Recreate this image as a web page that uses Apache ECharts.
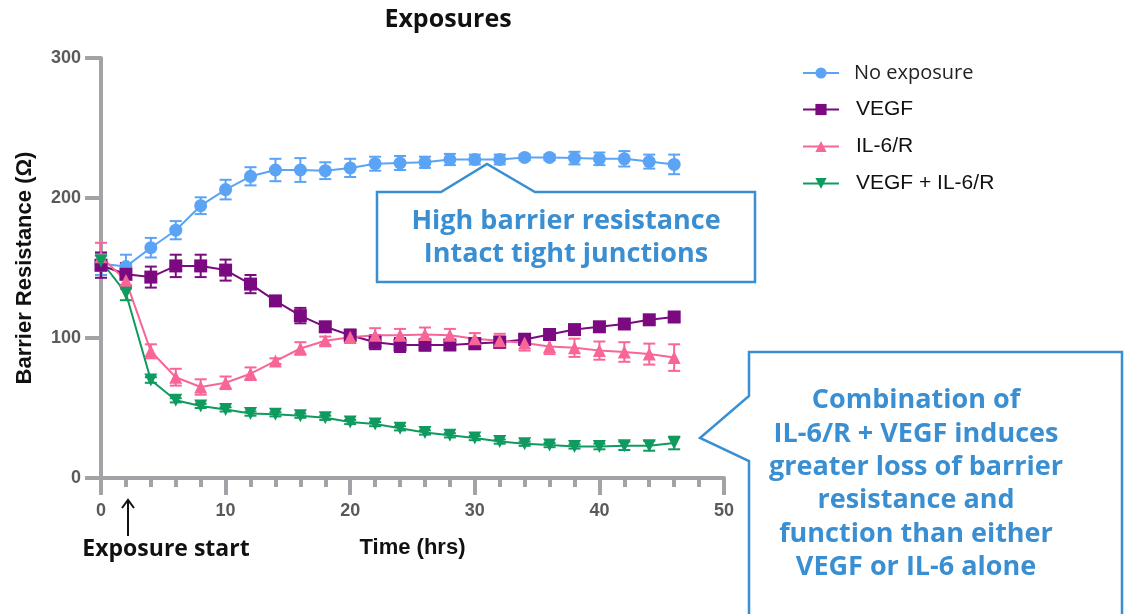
<!DOCTYPE html>
<html>
<head>
<meta charset="utf-8">
<script src="https://cdn.jsdelivr.net/npm/echarts@6/dist/echarts.min.js"></script>
<style>html,body{margin:0;padding:0;background:#fff}#c{width:1128px;height:614px}</style>
</head>
<body>
<div id="c"></div>
<script>
const times = [0,2,4,6,8,10,12,14,16,18,20,22,24,26,28,30,32,34,36,38,40,42,44,46];
const seriesNames = ['No exposure','VEGF','IL-6/R','VEGF + IL-6/R'];
const noExposure    = [153,151,164.5,177,194.5,206,215.5,220,220,219.5,221.5,224.5,225,225.5,227.5,227.5,227.5,229,229,228.5,228,228,226,224];
const noExposureErr = [8,8.5,7,6.5,6,7,6.5,8,8.5,6,6.5,5,5,4,4,3.5,3.5,2,2,4.5,4.5,5.5,5,7];
const vegf    = [152,145.5,143.5,151.5,151.5,148.5,138.5,126.5,116,108,102,97,95,95,95,96,97,99,102.5,106,108,110,113,115];
const vegfErr = [9,8,7.5,8,8,7.5,6.5,3,5.5,3,4,5,5,4,3.5,4,4,4,3,3,2.5,2.5,2.5,2.5];
const il6    = [158,141,90.5,72,65,68,74.5,83.5,92.5,98,100.5,102,102,102.5,102,99.5,98,96.5,94,93,91,90,88.5,86];
const il6Err = [10,6,5,6,5.5,4.5,4.5,2,4.5,3,4,5,4.5,5,4.5,4,5,5.5,5.5,6.5,6.5,7,7.5,9.5];
const combo    = [155,132,70,55.5,51.5,49,46,45.5,44.5,43,40,38.5,35.5,32.5,30.5,28.5,26,24.5,23.5,22.5,22.5,23,23,25];
const comboErr = [4,5,2,1.5,1.5,1.5,1.5,1.5,1.5,1.5,1.5,1.5,1.5,1.5,1.5,1.5,1.5,1.5,1.5,1.5,2,3,3.5,4.5];
const yTicks = [0,100,200,300];
const xTicks = [0,10,20,30,40,50];

const colors = ['#5AA3F5','#7B0A80','#F76696','#0F9A5F'];
const symbols = ['circle','rect','triangle','triangle'];
const rotations = [0,0,0,180];
const values = [noExposure, vegf, il6, combo];
const errs = [noExposureErr, vegfErr, il6Err, comboErr];

const chart = echarts.init(document.getElementById('c'), null, {renderer:'canvas'});
const series = [];
values.forEach((vals, i) => {
  series.push({
    name: seriesNames[i] + ' err', type: 'custom', z: 2,
    data: times.map((t, k) => [t, vals[k], errs[i][k]]),
    renderItem: (params, api) => {
      const x = api.value(0), y = api.value(1), e = api.value(2);
      const lo = api.coord([x, y - e]), hi = api.coord([x, y + e]);
      const w = 6;
      const st = {stroke: colors[i], lineWidth: 2};
      return {type:'group', children:[
        {type:'line', shape:{x1:lo[0],y1:lo[1],x2:hi[0],y2:hi[1]}, style:st},
        {type:'line', shape:{x1:lo[0]-w,y1:lo[1],x2:lo[0]+w,y2:lo[1]}, style:st},
        {type:'line', shape:{x1:hi[0]-w,y1:hi[1],x2:hi[0]+w,y2:hi[1]}, style:st}
      ]};
    },
    silent: true
  });
});
values.forEach((vals, i) => {
  series.push({
    name: seriesNames[i], type: 'line', z: 3,
    data: times.map((t, k) => [t, vals[k]]),
    symbol: symbols[i], symbolSize: 13, symbolRotate: rotations[i],
    showSymbol: true,
    lineStyle: {color: colors[i], width: 2},
    itemStyle: {color: colors[i]},
    animation: false
  });
});

const calloutColor = '#3A8FD2';
chart.setOption({
  animation: false,
  title: {text: 'Exposures', left: 443, top: 2, textAlign: 'center',
    textStyle: {fontFamily: 'Open Sans', fontWeight: 'bold', fontSize: 25, color: '#111'}},
  grid: {left: 101, right: 404, top: 58, bottom: 136, containLabel: false},
  legend: {
    orient: 'vertical', left: 797, top: 58, itemWidth: 36, itemHeight: 14, itemGap: 16,
    data: [
      {name: 'No exposure', textStyle: {fontFamily: 'Open Sans', fontSize: 20, padding: [0,0,9,10], color: '#222'}},
      {name: 'VEGF'}, {name: 'IL-6/R'}, {name: 'VEGF + IL-6/R'}
    ],
    textStyle: {fontFamily: 'Liberation Sans', fontSize: 21, color: '#111', padding: [0,0,0,12]}
  },
  xAxis: {
    type: 'value', min: 0, max: 50, interval: 10,
    axisLine: {show: true, onZero: false, lineStyle: {color: '#A3A3A7', width: 4}},
    axisTick: {show: true, length: 17, lineStyle: {color: '#A3A3A7', width: 4}},
    minorTick: {show: true, splitNumber: 5, length: 9, lineStyle: {color: '#A3A3A7', width: 4}},
    splitLine: {show: false},
    axisLabel: {margin: 24, fontFamily: 'Liberation Sans', fontWeight: 'bold', fontSize: 18, color: '#5A5A5A',
      formatter: v => xTicks.includes(v) ? String(v) : ''},
    name: 'Time (hrs)', nameLocation: 'middle', nameGap: 59,
    nameTextStyle: {fontFamily: 'Liberation Sans Narrow, Liberation Sans', fontWeight: 'bold', fontSize: 22, color: '#111'}
  },
  yAxis: {
    type: 'value', min: 0, max: 300, interval: 100,
    axisLine: {show: true, lineStyle: {color: '#A3A3A7', width: 4}},
    axisTick: {show: true, inside: false, length: 16, lineStyle: {color: '#A3A3A7', width: 4}},
    splitLine: {show: false},
    axisLabel: {margin: 20, fontFamily: 'Liberation Sans', fontWeight: 'bold', fontSize: 18, color: '#5A5A5A',
      formatter: v => yTicks.includes(v) ? String(v) : ''},
    name: 'Barrier Resistance (Ω)', nameLocation: 'middle', nameGap: 65, nameRotate: 90,
    nameTextStyle: {fontFamily: 'Liberation Sans', fontWeight: 'bold', fontSize: 22, color: '#111'}
  },
  series: series,
  graphic: [
    {type: 'polygon', shape: {points: [[377,192],[441,192],[487,164],[535,192],[755,192],[755,282],[377,282]]},
      style: {fill: '#fff', stroke: calloutColor, lineWidth: 2.5}, z: 10},
    {type: 'text', x: 566, y: 221, z: 11, style: {text: 'High barrier resistance', align: 'center', verticalAlign: 'middle',
      fontFamily: 'Open Sans', fontWeight: 'bold', fontSize: 27, fill: calloutColor}},
    {type: 'text', x: 566, y: 254, z: 11, style: {text: 'Intact tight junctions', align: 'center', verticalAlign: 'middle',
      fontFamily: 'Open Sans', fontWeight: 'bold', fontSize: 27, fill: calloutColor}},
    {type: 'polygon', shape: {points: [[749,352],[1122,352],[1122,620],[749,620],[749,461],[700,438],[749,396]]},
      style: {fill: '#fff', stroke: calloutColor, lineWidth: 2.5}, z: 10},
    {type: 'text', x: 916, y: 484, z: 11, style: {
      text: 'Combination of\nIL-6/R + VEGF induces\ngreater loss of barrier\nresistance and\nfunction than either\nVEGF or IL-6 alone',
      align: 'center', verticalAlign: 'middle', lineHeight: 33.4,
      fontFamily: 'Open Sans', fontWeight: 'bold', fontSize: 27, fill: calloutColor}},
    {type: 'polyline', shape: {points: [[128,536],[128,500]]}, style: {stroke: '#111', lineWidth: 2}, z: 10},
    {type: 'polyline', shape: {points: [[122,508],[128,500],[134,508]]}, style: {stroke: '#111', lineWidth: 2, fill: null}, z: 10},
    {type: 'text', x: 166, y: 549, z: 11, style: {text: 'Exposure start', align: 'center', verticalAlign: 'middle',
      fontFamily: 'Open Sans', fontWeight: 'bold', fontSize: 23, fill: '#111'}}
  ]
});
</script>
</body>
</html>
